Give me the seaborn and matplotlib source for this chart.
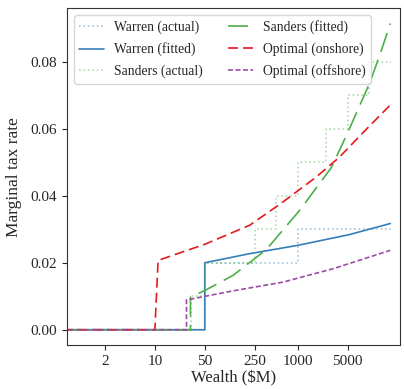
import numpy as np
import pandas as pd
import seaborn as sns
import matplotlib.pyplot as plt

# wealth in $M, marginal rates
warren_actual_w = [0.5, 50, 1000, 20000]
warren_actual_r = [0.0, 0.02, 0.03, 0.03]

warren_fit_w = [0.5, 50, 50, 213, 1010, 5300, 19800]
warren_fit_r = [0.0, 0.0, 0.0200, 0.0227, 0.0252, 0.0284, 0.0317]

sanders_actual_w = [0.5, 32, 50, 250, 500, 1000, 2500, 5000, 10000, 20000]
sanders_actual_r = [0.0, 0.01, 0.02, 0.03, 0.04, 0.05, 0.06, 0.07, 0.08, 0.08]

sanders_fit_w = [0.5, 31.5, 31.5, 50, 124, 363, 1070, 2960, 5000, 10160, 14000, 19800]
sanders_fit_r = [0.0, 0.0, 0.0097, 0.0117, 0.0162, 0.0239, 0.0357, 0.0484, 0.0588,
                 0.0736, 0.0818, 0.0914]

onshore_w = [0.5, 10, 11.1, 50, 213, 620, 1820, 3790, 9100, 19800]
onshore_r = [0.0, 0.0, 0.0207, 0.0255, 0.0312, 0.0381, 0.0456, 0.0514, 0.0598, 0.0671]

offshore_w = [0.5, 27.7, 27.7, 124, 620, 3120, 19800]
offshore_r = [0.0, 0.0, 0.0089, 0.0116, 0.0142, 0.0182, 0.0237]

xticks = [2, 10, 50, 250, 1000, 5000]
yticks = [0.0, 0.02, 0.04, 0.06, 0.08]

sns.set_style("ticks")
plt.rcParams['font.family'] = ['Liberation Serif', 'DejaVu Serif']
plt.rcParams['font.size'] = 11

red, blue, green, purple = sns.color_palette('Set1', 4)

fig, ax = plt.subplots(figsize=(4.04, 3.89), dpi=100)
fig.subplots_adjust(left=0.166, right=0.99, top=0.979, bottom=0.113)

common = dict(ax=ax, lw=1.2, estimator=None, sort=False)
sns.lineplot(x=warren_actual_w, y=warren_actual_r, color=blue, alpha=0.45,
             linestyle=':', drawstyle='steps-post', label='Warren (actual)', **common)
sns.lineplot(x=warren_fit_w, y=warren_fit_r, color=blue,
             label='Warren (fitted)', **common)
sns.lineplot(x=sanders_actual_w, y=sanders_actual_r, color=green, alpha=0.45,
             linestyle=':', drawstyle='steps-post', label='Sanders (actual)', **common)
sns.lineplot(x=sanders_fit_w, y=sanders_fit_r, color=green,
             dashes=(12, 5), label='Sanders (fitted)', **common)
sns.lineplot(x=onshore_w, y=onshore_r, color=red,
             dashes=(6, 3), label='Optimal (onshore)', **common)
sns.lineplot(x=offshore_w, y=offshore_r, color=purple,
             dashes=(3, 1.5), label='Optimal (offshore)', **common)

ax.set_xscale('log')
ax.set_xlim(0.59, 27000)
ax.set_xticks(xticks)
ax.set_xticklabels([str(t) for t in xticks])
ax.minorticks_off()
ax.set_yticks(yticks)
ax.set_yticklabels(['%.2f' % t for t in yticks])
ax.set_xlabel('Wealth (\\$M)', fontsize=12, labelpad=2)
ax.set_ylabel('Marginal tax rate', fontsize=12.5, labelpad=6)
for s in ax.spines.values():
    s.set_visible(True)
    s.set_color('#333333')
ax.legend(loc='upper left', ncol=2, fontsize=9.8, handlelength=1.85,
          handletextpad=0.67, columnspacing=1.9, labelspacing=0.6)

plt.savefig('out.png')
